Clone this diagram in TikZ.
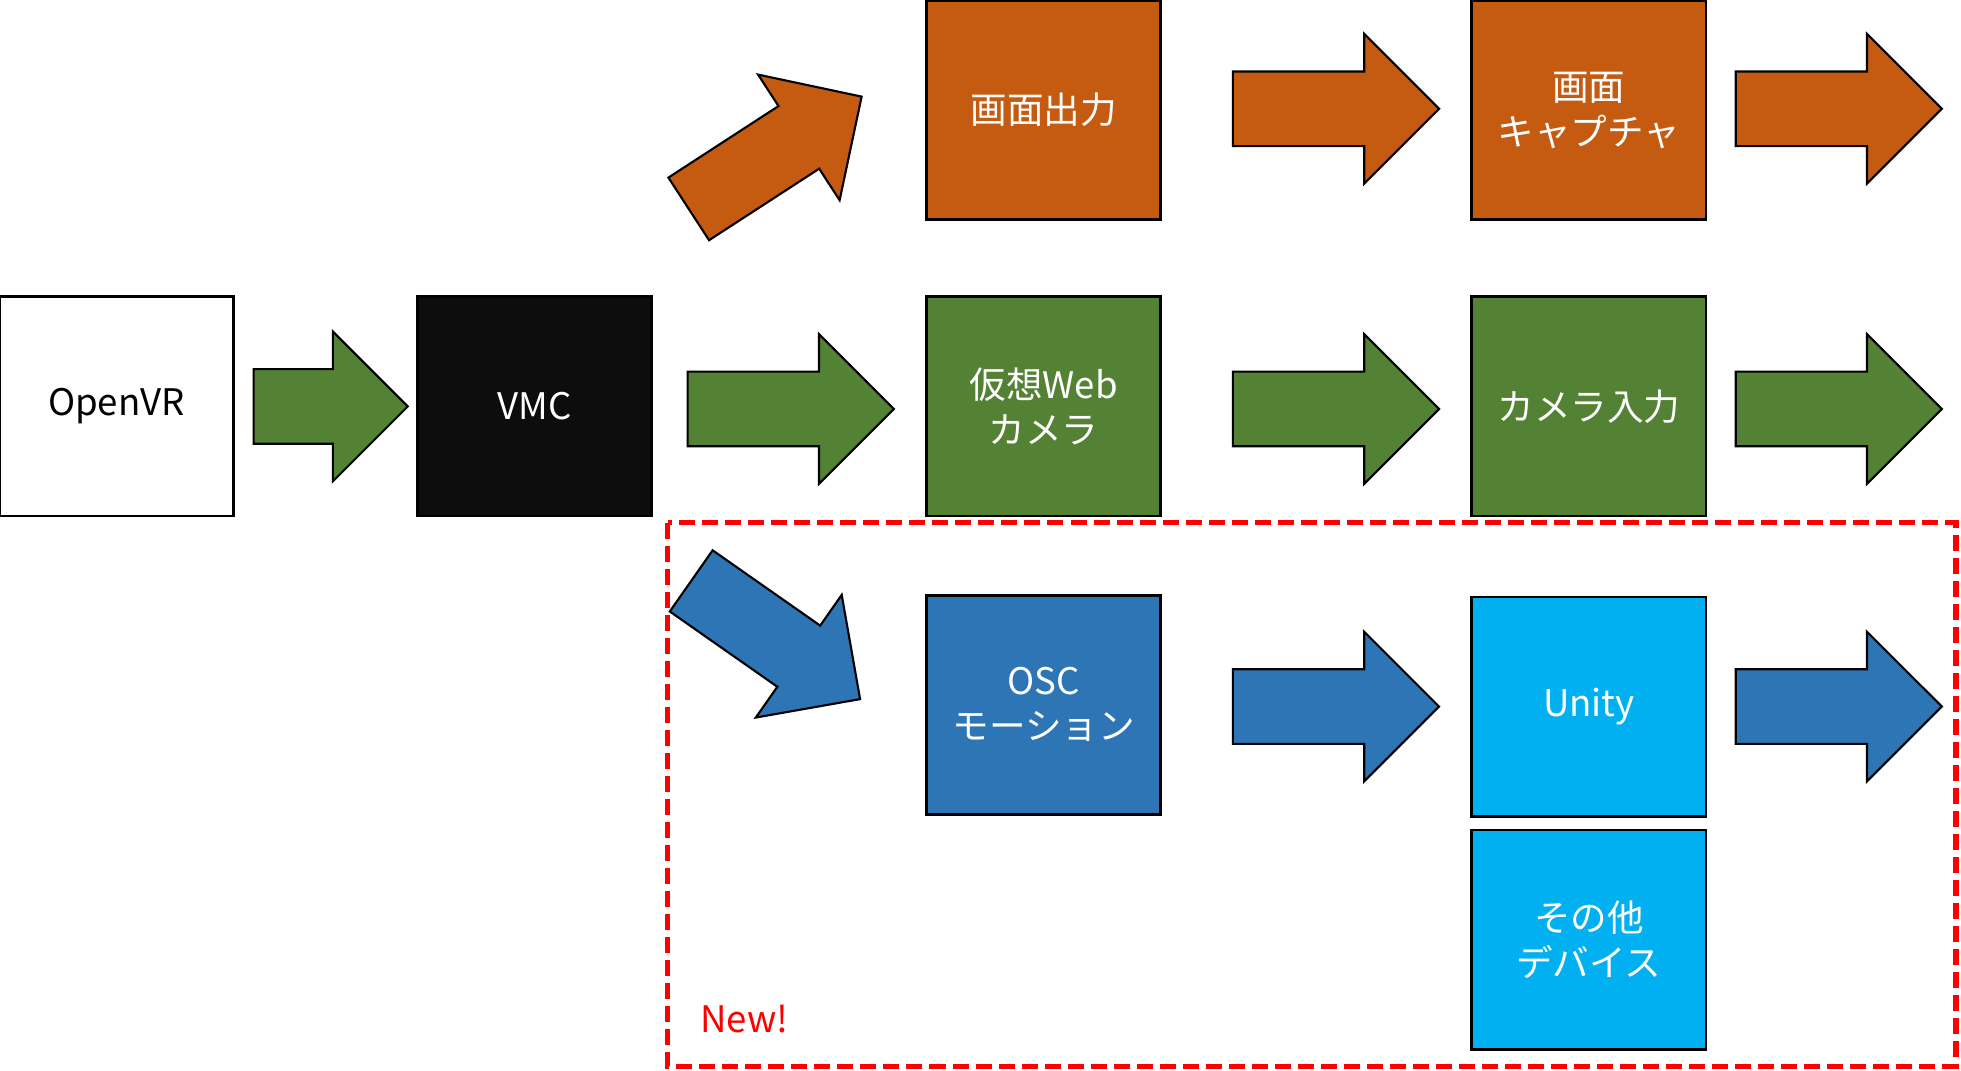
\documentclass[tikz,border=0pt]{standalone}
\usepackage{fontspec}
\setmainfont{Noto Sans CJK JP}
\usetikzlibrary{shapes.arrows,positioning}
\definecolor{scrorange}{HTML}{C55A11}
\definecolor{camgreen}{HTML}{548235}
\definecolor{oscblue}{HTML}{2E75B6}
\definecolor{devblue}{HTML}{00B0F0}
\definecolor{vmcblack}{HTML}{0D0D0D}
\tikzset{
    box/.style={
           rectangle,
           draw=black, line width=0.8pt,
           minimum width=2.34cm,
           minimum height=2.19cm,
           inner sep=0pt,
           align=center,
           text=white,
           font=\fontsize{10.4}{12.8}\selectfont
           },
    flow/.style={
           single arrow,
           draw=black, line width=0.6pt,
           inner xsep=0pt, inner ysep=0.3625cm,
           single arrow head extend=0.375cm,
           minimum width=1.475cm,
           minimum height=2.06cm,
           anchor=tail
           },
    newframe/.style={
           draw=red, line width=1.5pt,
           dash pattern=on 0.16cm off 0.07cm
           }
}

\begin{document}
\begin{tikzpicture}[x=0.0125cm, y=-0.0125cm]
   \useasboundingbox (0,0) rectangle (1568,856);
   % boxes
   \node[box, fill=white, text=black] (ovr) at (93,325) {OpenVR};
   \node[box, fill=vmcblack] (vmc) at (427.5,325) {VMC};
   \node[box, fill=scrorange] (out) at (834.5,88) {画面出力};
   \node[box, fill=scrorange] (cap) at (1270.5,88) {画面\\キャプチャ};
   \node[box, fill=camgreen] (web) at (834.5,325) {仮想Web\\カメラ};
   \node[box, fill=camgreen] (cin) at (1270.5,325) {カメラ入力};
   \node[box, fill=oscblue] (osc) at (834.5,563.5) {OSC\\モーション};
   \node[box, fill=devblue] (uni) at (1270.5,565) {Unity};
   \node[box, fill=devblue] (dev) [below=0.11cm of uni] {その他\\デバイス};
   % block arrows
   \node[flow, fill=camgreen, minimum height=1.54cm] (f1) at (202,325) {};
   \node[flow, fill=camgreen] (f2) at (549,327) {};
   \node[flow, fill=scrorange, rotate=33] (f3) at (550,167.5) {};
   \node[flow, fill=oscblue, rotate=-35] (f4) at (552,464) {};
   \node[flow, fill=scrorange] (o1) at (985,87) {};
   \node[flow, fill=scrorange] (o2) at (1387,87) {};
   \node[flow, fill=camgreen] (g1) at (985,327) {};
   \node[flow, fill=camgreen] (g2) at (1387,327) {};
   \node[flow, fill=oscblue] (b1) at (985,565) {};
   \node[flow, fill=oscblue] (b2) at (1387,565) {};
   % new part
   \draw[newframe] (534,418) rectangle (1564,853);
   \node[text=red, font=\fontsize{10.4}{12.8}\selectfont] (new) at (595,815) {New!};
\end{tikzpicture}
\end{document}
